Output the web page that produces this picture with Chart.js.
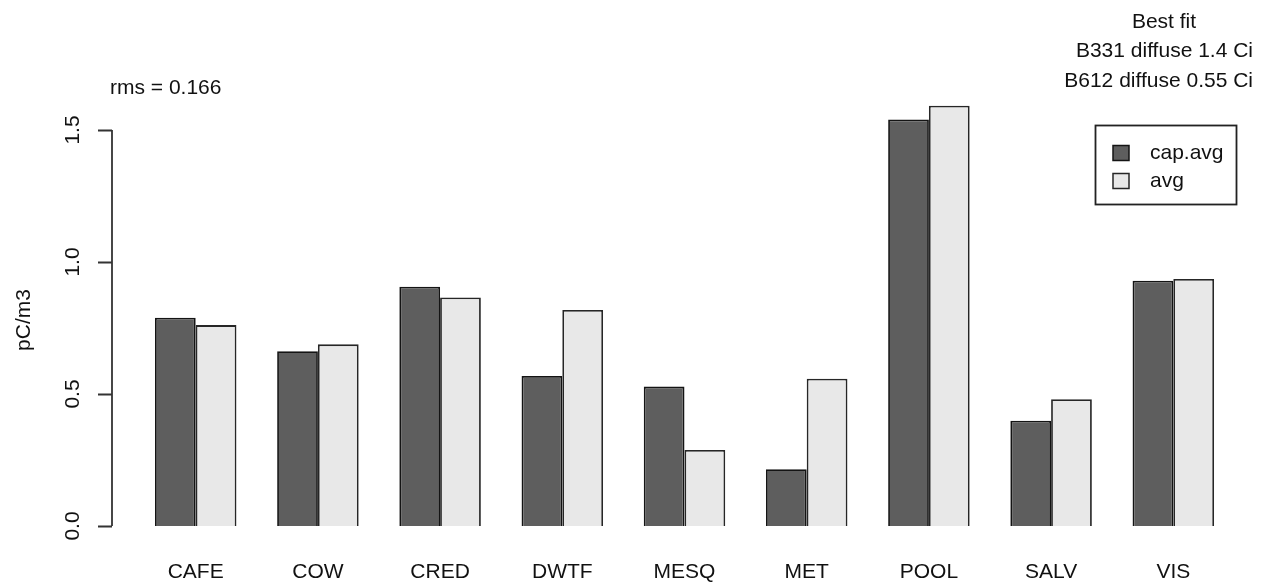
<!DOCTYPE html>
<html>
<head>
<meta charset="utf-8">
<script src="https://cdn.jsdelivr.net/npm/chart.js@4/dist/chart.umd.min.js"></script>
<style>
  html, body { margin: 0; padding: 0; background: #ffffff; }
  #wrap { width: 1267px; height: 583px; }
</style>
</head>
<body>
<div id="wrap"><canvas id="chart" width="1267" height="583"></canvas></div>
<script>
// Sites along the x axis
const sites = ['CAFE', 'COW', 'CRED', 'DWTF', 'MESQ', 'MET', 'POOL', 'SALV', 'VIS'];
// Concentrations, pC/m3
const capAvg = [0.789, 0.662, 0.906, 0.568, 0.528, 0.215, 1.540, 0.399, 0.929];
const avg    = [0.761, 0.688, 0.866, 0.818, 0.288, 0.558, 1.592, 0.480, 0.936];
// Y axis ticks
const yTicks = [0, 0.5, 1.0, 1.5];
const yTickLabels = ['0.0', '0.5', '1.0', '1.5'];
// Annotations
const fitLines = ['Best fit', 'B331 diffuse 1.4 Ci', 'B612 diffuse 0.55 Ci'];
const rmsText = 'rms = 0.166';
const yTitle = 'pC/m3';

const FONT = '21px "Liberation Sans", Arial, Helvetica, sans-serif';
const INK = '#111111';

// R-style extras: left axis, axis title, notes and boxed legend
const decorations = {
  id: 'decorations',
  afterDraw(chart) {
    const ctx = chart.ctx;
    const y = chart.scales.y;
    const axisX = 112;
    ctx.save();
    ctx.strokeStyle = '#333333';
    ctx.lineWidth = 1.8;
    ctx.beginPath();
    ctx.moveTo(axisX, y.getPixelForValue(yTicks[0]));
    ctx.lineTo(axisX, y.getPixelForValue(yTicks[yTicks.length - 1]));
    yTicks.forEach(v => {
      const py = Math.round(y.getPixelForValue(v)) + 0.5;
      ctx.moveTo(axisX, py);
      ctx.lineTo(axisX - 14, py);
    });
    ctx.stroke();

    ctx.fillStyle = INK;
    ctx.font = FONT;
    ctx.textAlign = 'center';
    ctx.textBaseline = 'middle';
    yTicks.forEach((v, i) => {
      ctx.save();
      ctx.translate(73, y.getPixelForValue(v));
      ctx.rotate(-Math.PI / 2);
      ctx.fillText(yTickLabels[i], 0, 0);
      ctx.restore();
    });

    ctx.save();
    ctx.translate(24, 320);
    ctx.rotate(-Math.PI / 2);
    ctx.fillText(yTitle, 0, 0);
    ctx.restore();

    ctx.textAlign = 'left';
    ctx.fillText(rmsText, 110, 88);

    ctx.textAlign = 'center';
    ctx.fillText(fitLines[0], 1164, 22);
    ctx.textAlign = 'right';
    ctx.fillText(fitLines[1], 1253, 51);
    ctx.fillText(fitLines[2], 1253, 81);

    // Legend box
    ctx.strokeStyle = '#222222';
    ctx.lineWidth = 1.8;
    ctx.strokeRect(1095.5, 125.5, 141, 79);
    const ds = chart.data.datasets;
    const rows = [153, 181];
    ds.forEach((d, i) => {
      ctx.fillStyle = d.backgroundColor;
      ctx.fillRect(1113, rows[i] - 7.5, 16, 15);
      ctx.strokeStyle = d.borderColor;
      ctx.lineWidth = 1.5;
      ctx.strokeRect(1113, rows[i] - 7.5, 16, 15);
      ctx.fillStyle = INK;
      ctx.textAlign = 'left';
      ctx.fillText(d.label, 1150, rows[i]);
    });
    ctx.restore();
  }
};

new Chart(document.getElementById('chart'), {
  type: 'bar',
  data: {
    labels: sites,
    datasets: [
      { label: 'cap.avg', data: capAvg, backgroundColor: '#5e5e5e', borderColor: '#141414', borderWidth: 1.8 },
      { label: 'avg', data: avg, backgroundColor: '#e8e8e8', borderColor: '#262626', borderWidth: 1.8 }
    ]
  },
  options: {
    responsive: false,
    animation: false,
    devicePixelRatio: 1,
    datasets: { bar: { categoryPercentage: 0.667, barPercentage: 1.0 } },
    layout: { padding: { left: 134.6, right: 32.6, top: 103.6, bottom: 0 } },
    plugins: { legend: { display: false }, tooltip: { enabled: false } },
    scales: {
      x: {
        grid: { display: false, drawTicks: false },
        border: { display: false },
        ticks: { color: INK, font: { family: '"Liberation Sans", Arial, sans-serif', size: 21 }, padding: 34, maxRotation: 0 },
        afterFit(scale) { scale.height = 57; }
      },
      y: {
        display: false,
        min: 0,
        max: 1.6
      }
    }
  },
  plugins: [decorations]
});
</script>
</body>
</html>
